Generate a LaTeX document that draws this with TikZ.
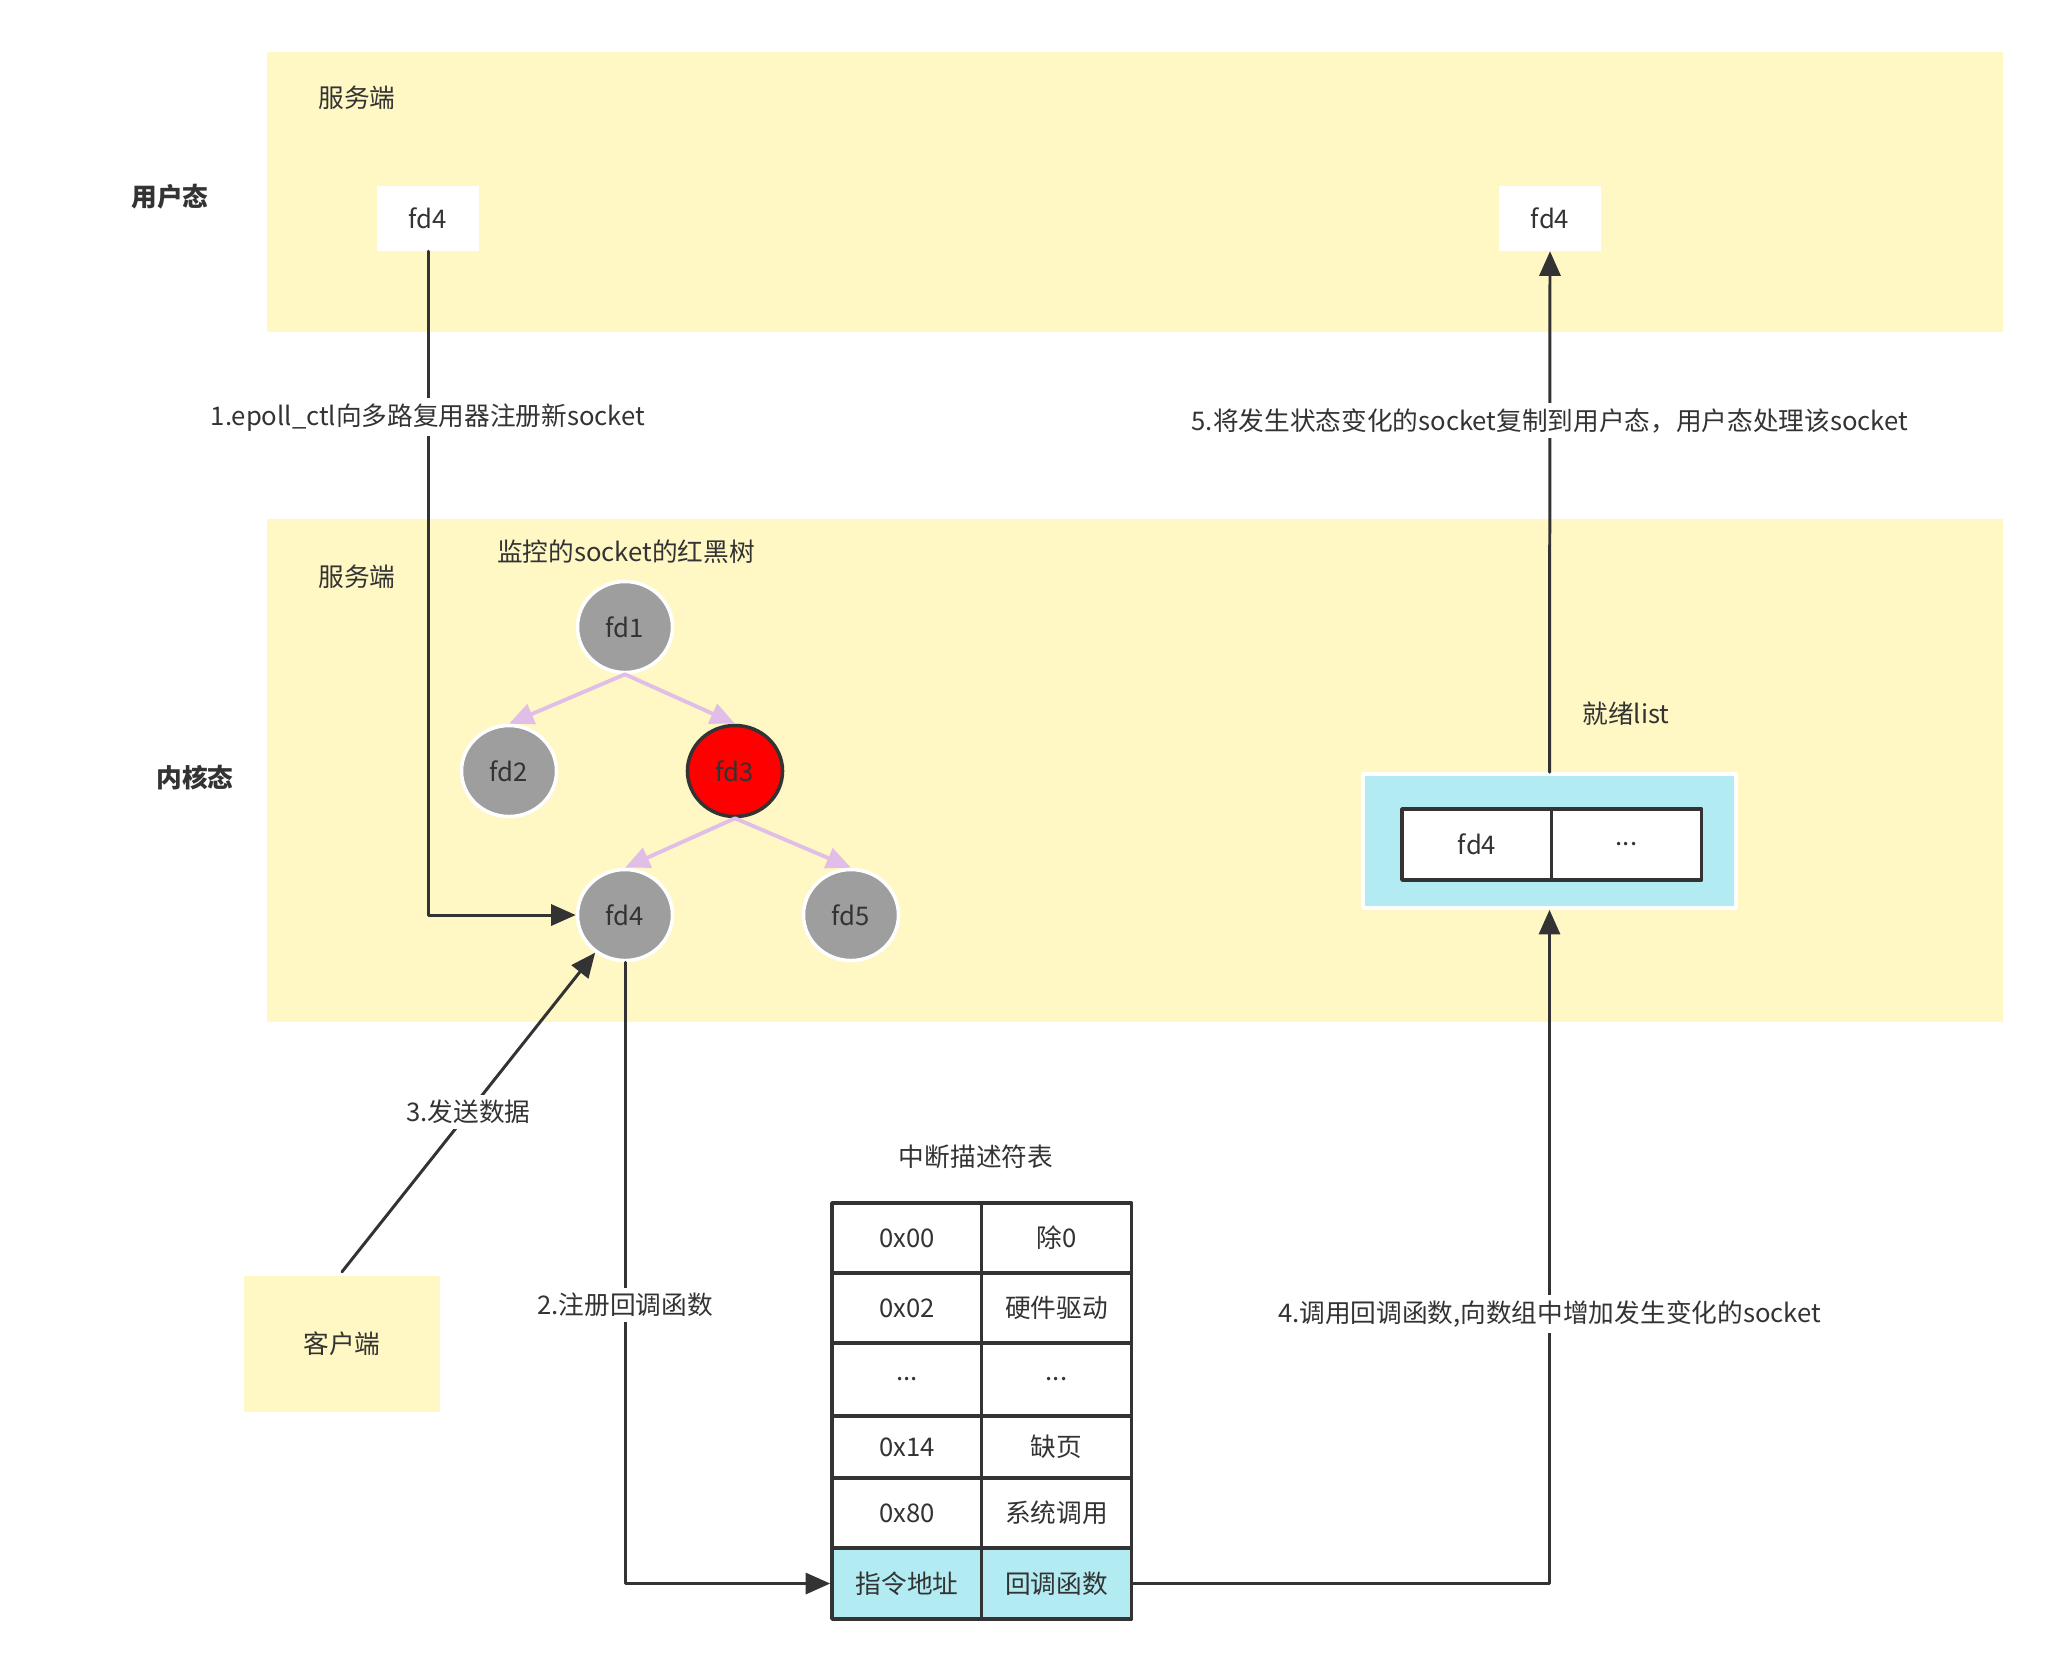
\documentclass[tikz,border=0pt]{standalone}
\usepackage{fontspec}
\setmainfont{Noto Sans CJK SC}
\usetikzlibrary{arrows.meta,shapes.geometric}
\definecolor{bandyellow}{HTML}{FFF8C4}
\definecolor{treegray}{HTML}{9E9E9E}
\definecolor{edgepurple}{HTML}{E1BEE7}
\definecolor{listcyan}{HTML}{B2EBF2}
\definecolor{ink}{HTML}{333333}
\newcommand{\celldots}{...}
\tikzset{
	txt/.style={font=\fontsize{7.3}{9}\selectfont, text=ink},
	band/.style={fill=bandyellow, draw=none},
	fdnode/.style={ellipse, draw=white, line width=1pt, fill=treegray, minimum width=0.95cm, minimum height=0.91cm, inner sep=0pt, txt},
	fdbox/.style={fill=white, minimum width=1.01cm, minimum height=0.65cm, txt},
	cell/.style={draw=ink, line width=1pt, fill=white, minimum width=1.5cm, inner sep=0pt, txt},
	flow/.style={->, draw=ink, line width=0.85pt},
	tree/.style={->, draw=edgepurple, line width=1.1pt},
	lbl/.style={txt, fill=white, inner sep=1.5pt}
}
\begin{document}
\begin{tikzpicture}[line cap=round,line join=round,>={Triangle[length=7pt,width=6pt]},x=0.01cm,y=-0.01cm]
		\useasboundingbox (0,0) rectangle (2055,1668);
		\fill [band] (267,52) rectangle (2003,332);
		\fill [band] (267,519) rectangle (2003,1022);
		\node [txt] (server1) at (357,98) {服务端};
		\node [txt] (server2) at (357,577) {服务端};
		\node [txt,font=\fontsize{7.3}{9}\selectfont\bfseries] (user) at (170,197) {用户态};
		\node [txt,font=\fontsize{7.3}{9}\selectfont\bfseries] (kernel) at (195,778) {内核态};
		\node [fdbox] (ufd1) at (428,218) {fd4};
		\node [fdbox] (ufd2) at (1550,218) {fd4};
		\node [txt] (treetitle) at (626,552) {监控的socket的红黑树};
		\node [fdnode] (fd1) at (625,627) {fd1};
		\node [fdnode] (fd2) at (509,771) {fd2};
		\node [fdnode,fill=red,draw=ink] (fd3) at (735,771) {fd3};
		\node [fdnode] (fd4) at (625,915) {fd4};
		\node [fdnode] (fd5) at (851,915) {fd5};
		\draw [tree] (fd1.south) -- (fd2.north);
		\draw [tree] (fd1.south) -- (fd3.north);
		\draw [tree] (fd3.south) -- (fd4.north);
		\draw [tree] (fd3.south) -- (fd5.north);
		\node [txt] (readytitle) at (1626,714) {就绪list};
		\node [fill=listcyan, draw=white, line width=1pt, minimum width=3.73cm, minimum height=1.34cm] (listbox) at (1549.5,841) {};
		\node [cell, minimum height=0.71cm] (ready1) at (1477,844.5) {fd4};
		\node [cell, minimum height=0.71cm] (ready2) at (1626.5,844.5) {\celldots};
		\node [fill=bandyellow, minimum width=1.95cm, minimum height=1.35cm, txt] (client) at (342,1344) {客户端};
		\node [txt] (idttitle) at (976,1157) {中断描述符表};
		\foreach \y/\h/\a/\b [count=\i] in {1238/0.70/0x00/除0, 1308/0.70/0x02/硬件驱动, 1379.5/0.73/\celldots/\celldots, 1447/0.62/0x14/缺页, 1513/0.70/0x80/系统调用}{
			\node [cell, minimum height=\h cm] (idt-a\i) at (907,\y) {\a};
			\node [cell, minimum height=\h cm] (idt-b\i) at (1056.5,\y) {\b};
		}
		\node [cell, fill=listcyan, minimum height=0.71cm] (idt-a6) at (907,1583.5) {指令地址};
		\node [cell, fill=listcyan, minimum height=0.71cm] (idt-b6) at (1056.5,1583.5) {回调函数};
		\draw [flow] (ufd1.south) |- node [lbl, pos=0.125] {1.epoll\_ctl向多路复用器注册新socket} (fd4.west);
		\draw [flow] (fd4.south) |- node [lbl, pos=0.276] {2.注册回调函数} (idt-a6.west);
		\draw [flow] ([yshift=0.04cm]client.north) -- node [lbl, pos=0.5] {3.发送数据} (fd4);
		\draw [flow] (idt-b6.east) -| node [lbl, pos=0.7] {4.调用回调函数,向数组中增加发生变化的socket} (listbox.south);
		\draw [flow] (listbox.north) -- node [lbl, pos=0.675] {5.将发生状态变化的socket复制到用户态，用户态处理该socket} (ufd2.south);
	\end{tikzpicture}
\end{document}
